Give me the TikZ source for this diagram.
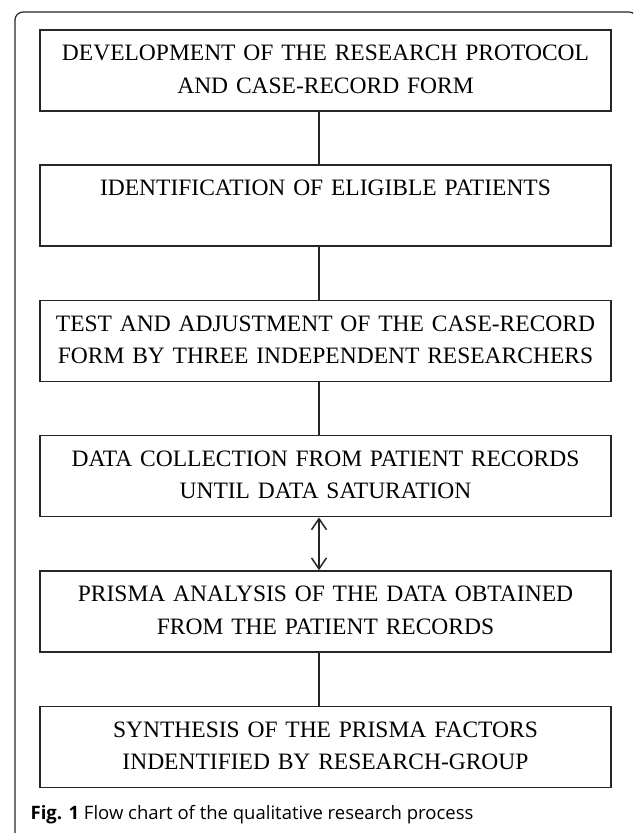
\documentclass[tikz,border=0pt]{standalone}
\usepackage{fontspec}
\setmainfont{Liberation Serif}
\newfontfamily\capfont{Open Sans}
\usetikzlibrary{arrows.meta}

\begin{document}
\begin{tikzpicture}[x=1pt,y=-1pt,
  box/.style={draw=black!85,line width=1.5pt,anchor=north,align=center,
    text width=558pt,inner xsep=6.5pt,inner ysep=8pt,
    font=\fontsize{23.5}{32.5}\selectfont},
  link/.style={draw=black!85,line width=1.5pt}]
       \clip (0,0) rectangle (633,833);
       \draw[black!85,line width=1.2pt,rounded corners=8pt] (15,845) -- (15,12)
       -- (637,12) -- (637,845);
       \node[box] (protocol) at (325.5,29) {\strut DEVELOPMENT OF THE RESEARCH PROTOCOL\\\strut AND CASE-RECORD FORM};
       \node[box] (patients) at (325.5,164.3) {\strut IDENTIFICATION OF ELIGIBLE PATIENTS\\\strut};
       \node[box] (test) at (325.5,299.6) {\strut TEST AND ADJUSTMENT OF THE CASE-RECORD\\\strut FORM BY THREE INDEPENDENT RESEARCHERS};
       \node[box] (collect) at (325.5,434.9) {\strut DATA COLLECTION FROM PATIENT RECORDS\\\strut UNTIL DATA SATURATION};
       \node[box] (analysis) at (325.5,570.2) {\strut PRISMA ANALYSIS OF THE DATA OBTAINED\\\strut FROM THE PATIENT RECORDS};
       \node[box] (synthesis) at (325.5,705.5) {\strut SYNTHESIS OF THE PRISMA FACTORS\\\strut INDENTIFIED BY RESEARCH-GROUP};
       \draw[link] ([xshift=-6.5pt]protocol.south) -- ([xshift=-6.5pt]patients.north);
       \draw[link] ([xshift=-6.5pt]patients.south) -- ([xshift=-6.5pt]test.north);
       \draw[link] ([xshift=-6.5pt]test.south) -- ([xshift=-6.5pt]collect.north);
       \draw[link,{Straight Barb[length=11pt,width=15pt]}-{Straight Barb[length=11pt,width=15pt]}]
       ([xshift=-6.5pt]collect.south) -- ([xshift=-6.5pt]analysis.north);
       \draw[link] ([xshift=-6.5pt]analysis.south) -- ([xshift=-6.5pt]synthesis.north);
       \node[anchor=base west,inner sep=0pt,font=\capfont\fontsize{18.5}{22}\selectfont]
       (caption) at (30.5,819) {\textbf{Fig. 1} Flow chart of the qualitative research process};
\end{tikzpicture}
\end{document}
